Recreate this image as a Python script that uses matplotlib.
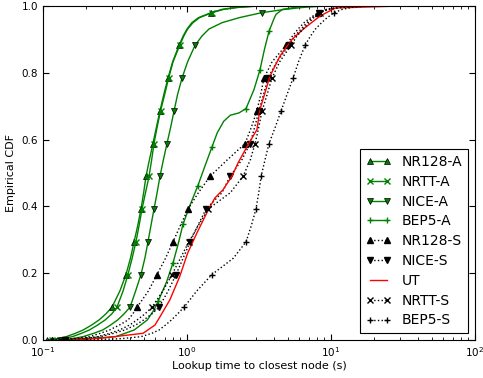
#!/usr/bin/env python3
# -*- coding: utf-8 -*-

import matplotlib
matplotlib.use("Agg")
import matplotlib.pyplot as plt
from matplotlib.ticker import FormatStrFormatter

# CDF levels shared by most series (markers every ~0.098)
cdf_std = [0.0, 0.004, 0.01, 0.02, 0.03, 0.045, 0.06, 0.078, 0.098, 0.147,
           0.196, 0.245, 0.294, 0.343, 0.392, 0.441, 0.49, 0.539, 0.588, 0.637,
           0.686, 0.735, 0.784, 0.833, 0.882, 0.91, 0.931, 0.95, 0.965, 0.98,
           0.99, 0.996, 1.0]
marks_std = [0, 8, 10, 12, 14, 16, 18, 20, 22, 24, 29]

# lookup times (s) at each level of cdf_std
nr128_a = [0.107, 0.125, 0.145, 0.168, 0.19, 0.218, 0.245, 0.273, 0.301, 0.342,
           0.377, 0.405, 0.429, 0.455, 0.479, 0.50, 0.519, 0.548, 0.580, 0.613,
           0.649, 0.69, 0.738, 0.795, 0.880, 0.94, 1.0, 1.08, 1.2, 1.47,
           1.75, 2.2, 3.0]
nrtt_a = [0.115, 0.135, 0.16, 0.185, 0.21, 0.24, 0.27, 0.30, 0.326, 0.36,
          0.389, 0.416, 0.442, 0.465, 0.487, 0.515, 0.545, 0.568, 0.59, 0.62,
          0.655, 0.70, 0.745, 0.80, 0.89, 0.95, 1.01, 1.1, 1.22, 1.49,
          1.8, 2.3, 3.2]
nice_a = [0.136, 0.16, 0.19, 0.225, 0.26, 0.295, 0.33, 0.365, 0.402, 0.44,
          0.479, 0.51, 0.536, 0.562, 0.59, 0.62, 0.649, 0.685, 0.726, 0.77,
          0.813, 0.86, 0.923, 1.01, 1.136, 1.27, 1.42, 1.75, 2.3, 3.3,
          4.8, 6.5, 9.0]
nr128_s = [0.115, 0.16, 0.21, 0.25, 0.29, 0.34, 0.39, 0.42, 0.450, 0.54,
           0.619, 0.71, 0.80, 0.90, 1.016, 1.2, 1.445, 1.9, 2.53, 2.8,
           3.06, 3.25, 3.42, 3.9, 4.87, 5.4, 5.9, 6.5, 7.2, 8.13,
           9.3, 11.0, 14.0]
nice_s = [0.142, 0.19, 0.25, 0.31, 0.37, 0.44, 0.50, 0.57, 0.639, 0.74,
          0.839, 0.94, 1.05, 1.19, 1.355, 1.75, 1.99, 2.4, 2.74, 2.95,
          3.16, 3.4, 3.65, 4.2, 5.11, 5.6, 6.2, 6.8, 7.4, 8.26,
          9.5, 11.5, 15.0]
nrtt_s = [0.131, 0.18, 0.24, 0.29, 0.34, 0.40, 0.45, 0.51, 0.571, 0.68,
          0.787, 0.90, 1.03, 1.2, 1.40, 2.0, 2.45, 2.75, 2.97, 3.15,
          3.32, 3.6, 3.89, 4.4, 5.27, 5.8, 6.4, 7.0, 7.6, 8.39,
          9.7, 12.0, 16.0]
bep5_s = [0.2, 0.35, 0.48, 0.57, 0.64, 0.71, 0.78, 0.86, 0.953, 1.17,
          1.49, 2.1, 2.57, 2.8, 3.01, 3.15, 3.27, 3.48, 3.71, 4.1,
          4.50, 4.95, 5.45, 5.95, 6.60, 7.2, 7.8, 8.6, 9.4, 10.5,
          12.0, 14.0, 18.0]

# BEP5-A has its own marker spacing (~0.1155)
cdf_bep5_a = [0.0, 0.01, 0.03, 0.06, 0.09, 0.1155, 0.173, 0.231, 0.289, 0.3465,
              0.404, 0.462, 0.52, 0.5775, 0.62, 0.655, 0.673, 0.68, 0.693,
              0.75, 0.8085, 0.87, 0.924, 0.96, 0.975, 0.99, 1.0]
marks_bep5_a = [0, 5, 7, 9, 11, 13, 18, 20, 22]
bep5_a = [0.15, 0.32, 0.43, 0.53, 0.59, 0.630, 0.72, 0.80, 0.87, 0.938,
          1.05, 1.19, 1.33, 1.49, 1.62, 1.8, 2.0, 2.3, 2.57,
          2.92, 3.21, 3.45, 3.71, 4.0, 4.15, 4.6, 6.5]

# UT has no markers
cdf_ut = [0.0, 0.005, 0.02, 0.045, 0.07, 0.12, 0.19, 0.26, 0.32, 0.38, 0.425,
          0.45, 0.49, 0.53, 0.584, 0.63, 0.69, 0.79, 0.85, 0.9, 0.93, 0.97,
          0.994, 1.0]
ut = [0.154, 0.249, 0.495, 0.60, 0.65, 0.76, 0.89, 1.01, 1.17, 1.37, 1.56,
      1.78, 2.05, 2.26, 2.65, 3.06, 3.21, 3.77, 4.42, 5.36, 6.39, 8.39,
      10.7, 30.0]

plt.rcParams['font.family'] = ['DejaVu Sans']
plt.rcParams['xtick.direction'] = 'in'
plt.rcParams['ytick.direction'] = 'in'
plt.rcParams['xtick.top'] = True
plt.rcParams['ytick.right'] = True
plt.rcParams['xtick.major.size'] = 4
plt.rcParams['ytick.major.size'] = 4
plt.rcParams['xtick.minor.size'] = 2
plt.rcParams['ytick.minor.size'] = 2

fig = plt.figure(figsize=(4.83, 3.78), dpi=100)
ax = fig.add_axes([43 / 483, 38 / 378, 432 / 483, 334 / 378])

G = (0, 0.5, 0)
ms = 5

ax.plot(nr128_a, cdf_std, '-', color=G, lw=1, marker='^', ms=ms, mfc=G, mec='k',
        mew=0.5, markevery=marks_std, label='NR128-A')
ax.plot(nrtt_a, cdf_std, '-', color=G, lw=1, marker='x', ms=ms, mec=G,
        markevery=marks_std, label='NRTT-A')
ax.plot(nice_a, cdf_std, '-', color=G, lw=1, marker='v', ms=ms, mfc=G, mec='k',
        mew=0.5, markevery=marks_std, label='NICE-A')
ax.plot(bep5_a, cdf_bep5_a, '-', color=G, lw=1, marker='+', ms=ms, mec=G,
        markevery=marks_bep5_a, label='BEP5-A')
ax.plot(nr128_s, cdf_std, ':', color='k', lw=1, marker='^', ms=ms, mfc='k', mec='k',
        markevery=marks_std, label='NR128-S')
ax.plot(nice_s, cdf_std, ':', color='k', lw=1, marker='v', ms=ms, mfc='k', mec='k',
        markevery=marks_std, label='NICE-S')
ax.plot(ut, cdf_ut, '-', color='r', lw=1, label='UT')
ax.plot(nrtt_s, cdf_std, ':', color='k', lw=1, marker='x', ms=ms, mec='k',
        markevery=marks_std, label='NRTT-S')
ax.plot(bep5_s, cdf_std, ':', color='k', lw=1, marker='+', ms=ms, mec='k',
        markevery=marks_std, label='BEP5-S')

ax.set_xscale('log')
ax.set_xlim(0.1, 100)
ax.set_ylim(0, 1)
ax.yaxis.set_major_formatter(FormatStrFormatter('%.1f'))
ax.tick_params(labelsize=7.5)
ax.set_xlabel('Lookup time to closest node (s)', fontsize=8, labelpad=2)
ax.set_ylabel('Empirical CDF', fontsize=8, labelpad=4)

leg = ax.legend(loc='lower right', fontsize=10, numpoints=2, fancybox=False,
                framealpha=1, edgecolor='k', borderaxespad=0.5,
                labelspacing=0.42, handlelength=1.8, handletextpad=0.8,
                borderpad=0.4, markerscale=0.9)
leg.get_frame().set_linewidth(0.8)

fig.savefig('out.png', dpi=100, facecolor='white')
